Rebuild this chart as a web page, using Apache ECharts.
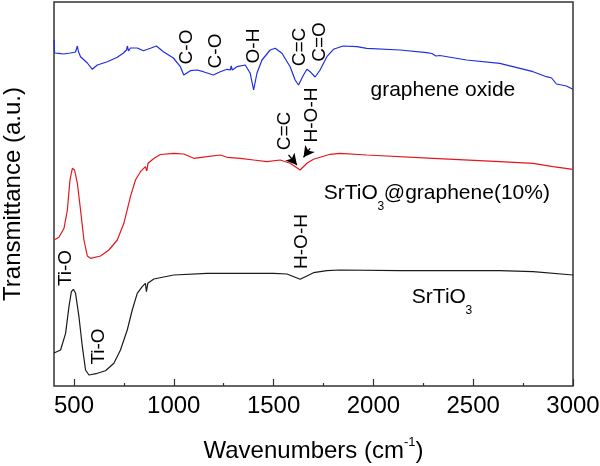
<!DOCTYPE html>
<html>
<head>
<meta charset="utf-8">
<script src="https://cdn.jsdelivr.net/npm/echarts@6/dist/echarts.min.js"></script>
<style>html,body{margin:0;padding:0;background:#fff}#c{width:600px;height:466px}</style>
</head>
<body>
<div id="c"></div>
<script>
// x tick labels (wavenumbers, cm^-1)
const majorTicks = [500, 1000, 1500, 2000, 2500, 3000];
const minorTicks = [750, 1250, 1750, 2250, 2750];

// [wavenumber, transmittance (a.u.)]
const grapheneOxide = [[400,346],[403,333],[423,332.7],[448,332],[483,333],[508,334],[517,340],[523,334],[533,329.3],[567,323],[592,316.7],[617,321],[667,324.3],[717,328.7],[748,333],[763,336],[768,340],[773,335],[783,338],[817,338],[848,335.3],[883,337.7],[913,340],[948,334.3],[998,328],[1033,319.3],[1050,311],[1083,315.3],[1117,316],[1148,314.3],[1198,311],[1233,314.3],[1267,316.7],[1283,316],[1288,320],[1293,316],[1317,319.3],[1358,321],[1383,312.7],[1400,296],[1417,313],[1442,326],[1483,336],[1508,337.7],[1542,332.7],[1583,319.3],[1608,306],[1625,301],[1650,311],[1667,316.7],[1683,314.3],[1708,309],[1733,316],[1767,329.3],[1800,336.7],[1848,340],[1917,339.3],[1967,337.7],[2133,336],[2267,333.3],[2293,332.5],[2313,330],[2333,330.5],[2467,326],[2633,322.7],[2800,314.3],[2867,309.3],[2893,308],[2917,302],[2967,300],[3000,296.7]];

const srtio3Graphene = [[400,146],[425,148.7],[450,157.7],[467,176],[480,206],[492,217.7],[503,216],[517,202.7],[533,176],[550,146],[567,130],[583,127.7],[633,130],[675,136],[717,146],[750,162.7],[783,189.3],[808,206],[833,214.3],[858,219.3],[865,215],[871,222.7],[900,227.5],[933,231.5],[1000,232.7],[1050,232],[1100,227.7],[1167,229.3],[1233,231],[1267,228.7],[1333,227.7],[1400,226],[1467,224.3],[1533,226],[1583,222.7],[1633,216],[1667,222.7],[1700,226.7],[1733,228.7],[1783,231.7],[1833,232.7],[1967,231],[2300,227.7],[2633,224.3],[2800,222.7],[2900,219.3],[3000,216.7]];

const srtio3 = [[400,33],[433,36],[458,52.7],[475,79.3],[487,94.3],[497,96.7],[508,92.7],[525,69.3],[542,39.3],[558,16],[575,11],[617,12.7],[658,15.3],[700,22.7],[733,36],[767,56],[792,76],[817,92.7],[842,99.3],[858,102.7],[863,94.3],[870,102.7],[900,107],[950,109],[1000,111],[1167,112.7],[1333,112.7],[1500,112.7],[1567,112],[1633,106.7],[1700,113.3],[1767,115.3],[1833,116],[2133,115.3],[2633,115.3],[2800,114.3],[3000,111]];

// annotations: [wavenumber, value, text]
const goBands = [[1067,339,'C-O'],[1208,335,'C-O'],[1400,340,'O-H'],[1630,339,'C=C'],[1730,344,'C=O']];
const compBands = [[1558,255,'C=C'],[1692,271,'H-O-H']];
const stoBands = [[458,118,'Ti-O'],[625,39.5,'Ti-O'],[1642,144.5,'H-O-H']];
const seriesNames = ['graphene oxide', 'SrTiO3@graphene(10%)', 'SrTiO3'];
const nameAnchors = [[2348,296],[2318,193],[2343,89]];
const arrows = [[[1575,231],[1617,221]],[[1683,237.7],[1650,228.7]]];

const FONT = "'Liberation Sans', Arial, sans-serif";

function bandPoints(list) {
  return list.map(b => ({
    coord: [b[0], b[1]], symbol: 'circle', symbolSize: 0,
    label: { show: true, position: 'inside', rotate: 90, formatter: b[2],
      color: '#000', fontSize: 19, fontFamily: FONT }
  }));
}
function nameLabel(name, anchor) {
  let fmt;
  if (name.indexOf('SrTiO3') === 0) {
    const rest = name.slice(6);
    fmt = '{m|SrTiO}{s|3}' + (rest ? '{m|' + rest + '}' : '');
  } else {
    fmt = '{m|' + name + '}';
  }
  return {
    coord: anchor, symbol: 'circle', symbolSize: 0,
    label: { show: true, position: 'inside', formatter: fmt,
      rich: {
        m: { fontSize: 21, lineHeight: 40, color: '#000', fontFamily: FONT },
        s: { fontSize: 12, lineHeight: 14, width: 6, verticalAlign: 'bottom', color: '#000', fontFamily: FONT }
      } }
  };
}

const chart = echarts.init(document.getElementById('c'));
chart.setOption({
  animation: false,
  backgroundColor: '#fff',
  grid: { left: 54, right: 27, top: 2, bottom: 80, outerBoundsMode: 'none', containLabel: false,
    show: true, borderColor: '#333', borderWidth: 1.5, backgroundColor: 'transparent' },
  xAxis: [{
    type: 'value', min: 400, max: 3000,
    axisLine: { show: false },
    axisTick: { show: true, inside: true, length: 7, customValues: majorTicks, lineStyle: { color: '#333', width: 1.2 } },
    axisLabel: { customValues: majorTicks, formatter: v => String(v), fontSize: 24, color: '#000', margin: 8, fontFamily: FONT },
    splitLine: { show: false },
    name: '{a|Wavenumbers (cm}{s|-1}{a|)}', nameLocation: 'middle', nameGap: 50,
    nameTextStyle: { rich: {
      a: { fontSize: 24, lineHeight: 30, color: '#000', fontFamily: FONT },
      s: { fontSize: 13, lineHeight: 14, verticalAlign: 'top', color: '#000', fontFamily: FONT }
    } }
  }, {
    type: 'value', min: 400, max: 3000, position: 'bottom',
    axisLine: { show: false }, axisLabel: { show: false }, splitLine: { show: false },
    axisTick: { show: true, inside: true, length: 3, customValues: minorTicks, lineStyle: { color: '#333', width: 1.2 } }
  }],
  yAxis: {
    type: 'value', min: 0, max: 384,
    axisLine: { show: false }, axisTick: { show: false }, axisLabel: { show: false }, splitLine: { show: false },
    name: 'Transmittance (a.u.)', nameLocation: 'middle', nameGap: 29, nameRotate: 90,
    nameTextStyle: { fontSize: 24, color: '#000', fontFamily: FONT }
  },
  series: [{
    name: seriesNames[0], type: 'line', xAxisIndex: 0, data: grapheneOxide, showSymbol: false,
    lineStyle: { color: '#1f2ee0', width: 1.2 }, itemStyle: { color: '#1f2ee0' },
    markPoint: { silent: true, data: bandPoints(goBands).concat([nameLabel(seriesNames[0], nameAnchors[0])]) }
  }, {
    name: seriesNames[1], type: 'line', xAxisIndex: 0, data: srtio3Graphene, showSymbol: false,
    lineStyle: { color: '#e5161c', width: 1.2 }, itemStyle: { color: '#e5161c' },
    markPoint: { silent: true, data: bandPoints(compBands).concat([nameLabel(seriesNames[1], nameAnchors[1])]) },
    markLine: { silent: true, symbol: ['none', 'arrow'], symbolSize: [9, 11],
      lineStyle: { color: '#000', width: 1.2, type: 'solid' }, label: { show: false },
      data: arrows.map(a => [{ coord: a[0] }, { coord: a[1] }]) }
  }, {
    name: seriesNames[2], type: 'line', xAxisIndex: 0, data: srtio3, showSymbol: false,
    lineStyle: { color: '#1a1a1a', width: 1.2 }, itemStyle: { color: '#1a1a1a' },
    markPoint: { silent: true, data: bandPoints(stoBands).concat([nameLabel(seriesNames[2], nameAnchors[2])]) }
  }]
});
</script>
</body>
</html>
